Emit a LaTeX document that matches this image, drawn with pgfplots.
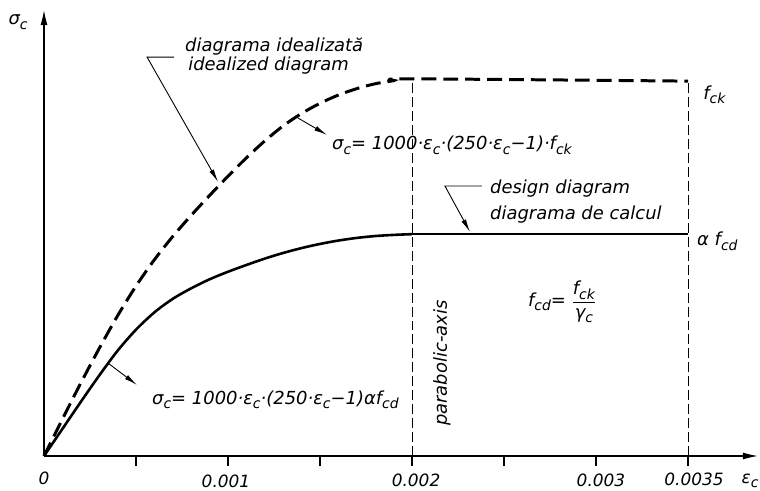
\documentclass[border=0pt]{standalone}
\usepackage{pgfplots}
\pgfplotsset{compat=1.18}
\usepackage{fontspec}
\setmainfont{DejaVu Sans}[ItalicFont={DejaVu Sans Oblique}]
\usetikzlibrary{arrows.meta}
\newcommand{\sub}[1]{\raisebox{-0.45ex}{\fontsize{14}{14}\selectfont #1}}
\begin{document}
\begin{tikzpicture}[every node/.style={font=\fontsize{18}{20}\selectfont\itshape, inner sep=0pt}]
\begin{axis}[
  width=760bp, height=491bp, scale only axis,
  xmin=-0.00023913, xmax=0.0038913,
  ymin=-0.093085, ymax=1.212766,
  hide axis, clip=false]
% axes
\draw[line width=1.3pt, -{Latex[length=15pt,width=7pt]}] (axis cs:0,0) -- (axis cs:0,1.186);
\draw[line width=1.3pt, -{Latex[length=15pt,width=7pt]}] (axis cs:0,0) -- (axis cs:0.00388,0);
\pgfplotsinvokeforeach{0.0005,0.001,0.0015,0.002,0.0025,0.003,0.0035}{
  \draw[line width=1.1pt] (axis cs:#1,0) -- (axis cs:#1,-0.0266);}
% vertical dashed lines
\draw[line width=1pt, dash pattern=on 10pt off 4pt] (axis cs:0.002,0) -- (axis cs:0.002,1.003);
\draw[line width=1pt, dash pattern=on 10pt off 4pt] (axis cs:0.0035,0) -- (axis cs:0.0035,0.997);
% idealized diagram
\addplot[black, line width=3pt, dash pattern=on 15pt off 7pt, smooth] coordinates {
(0,0) (0.0001,0.098) (0.0002,0.194) (0.0003,0.286) (0.0004,0.373)
(0.0005,0.452) (0.0006,0.522) (0.0007,0.584) (0.0008,0.640) (0.0009,0.693)
(0.0010,0.744) (0.0011,0.793) (0.0012,0.838) (0.0013,0.878) (0.0014,0.911)
(0.0015,0.938) (0.0016,0.960) (0.0017,0.977) (0.0018,0.990) (0.0019,0.998)
(0.0020,1.003) (0.0035,0.997)};
% design diagram
\addplot[black, line width=2.6pt, smooth] coordinates {
(0,0) (0.0001,0.072) (0.0002,0.144) (0.0003,0.214) (0.0004,0.280)
(0.0005,0.336) (0.0006,0.382) (0.0007,0.418) (0.0008,0.446) (0.0009,0.470)
(0.0010,0.490) (0.0011,0.508) (0.0012,0.525) (0.0013,0.540) (0.0014,0.553)
(0.0015,0.564) (0.0016,0.573) (0.0017,0.580) (0.0018,0.585) (0.0019,0.588)
(0.0020,0.590)};
\addplot[black, line width=2.6pt] coordinates {(0.002,0.590) (0.0035,0.590)};
% leaders and arrows
\draw[line width=0.9pt, -{Latex[length=13pt,width=5pt]}] (axis cs:0.000707,1.061) -- (axis cs:0.000560,1.061) -- (axis cs:0.000946,0.729);
\draw[line width=0.9pt, -{Latex[length=13pt,width=5pt]}] (axis cs:0.001380,0.899) -- (axis cs:0.001538,0.854);
\draw[line width=0.9pt, -{Latex[length=13pt,width=5pt]}] (axis cs:0.002380,0.718) -- (axis cs:0.002179,0.718) -- (axis cs:0.002315,0.596);
\draw[line width=0.9pt, -{Latex[length=13pt,width=5pt]}] (axis cs:0.000348,0.247) -- (axis cs:0.000505,0.189);
% anchor points for texts
\coordinate (tSig) at (axis cs:-0.000141,1.154);
\coordinate (tA1) at (axis cs:0.000766,1.077);
\coordinate (tA2) at (axis cs:0.000783,1.024);
\coordinate (tF1) at (axis cs:0.001565,0.814);
\coordinate (tFck) at (axis cs:0.003582,0.949);
\coordinate (tD1) at (axis cs:0.002424,0.697);
\coordinate (tD2) at (axis cs:0.002424,0.630);
\coordinate (tFcd) at (axis cs:0.003549,0.559);
\coordinate (tPar) at (axis cs:0.002163,0.247);
\coordinate (tFrac) at (axis cs:0.002630,0.410);
\coordinate (tF2) at (axis cs:0.000587,0.138);
\coordinate (k0) at (axis cs:0,-0.0585);
\coordinate (k1) at (axis cs:0.000989,-0.0680);
\coordinate (k2) at (axis cs:0.002022,-0.0640);
\coordinate (k3) at (axis cs:0.003027,-0.0660);
\coordinate (k4) at (axis cs:0.003533,-0.0620);
\coordinate (k5) at (axis cs:0.003837,-0.0670);
\end{axis}
% texts
\node at (tSig) {σ\sub{c}};
\node[anchor=base west] at (tA1) {diagrama idealizată};
\node[anchor=base west] at (tA2) {idealized diagram};
\node[anchor=base west] at (tF1) {σ\sub{c}= 1000·ε\sub{c}·(250·ε\sub{c}−1)·f\sub{ck}};
\node[anchor=base west] at (tFck) {f\sub{ck}};
\node[anchor=base west] at (tD1) {design diagram};
\node[anchor=base west] at (tD2) {diagrama de calcul};
\node[anchor=base west] at (tFcd) {α f\sub{cd}};
\node[rotate=90] at (tPar) {parabolic-axis};
\node[anchor=west] at (tFrac) {f\sub{cd}= $\displaystyle\frac{\mbox{f\sub{ck}}}{\mbox{γ\sub{c}}}$};
\node[anchor=base west] at (tF2) {σ\sub{c}= 1000·ε\sub{c}·(250·ε\sub{c}−1)αf\sub{cd}};
% tick labels
\begin{scope}[every node/.style={font=\fontsize{17}{19}\selectfont\itshape, inner sep=0pt}]
\node at (k0) {0};
\node at (k1) {0.001};
\node at (k2) {0.002};
\node at (k3) {0.003};
\node at (k4) {0.0035};
\node at (k5) {ε\sub{c}};
\end{scope}
\pgfresetboundingbox
\useasboundingbox (current axis.south west) rectangle (current axis.north east);
\end{tikzpicture}
\end{document}
